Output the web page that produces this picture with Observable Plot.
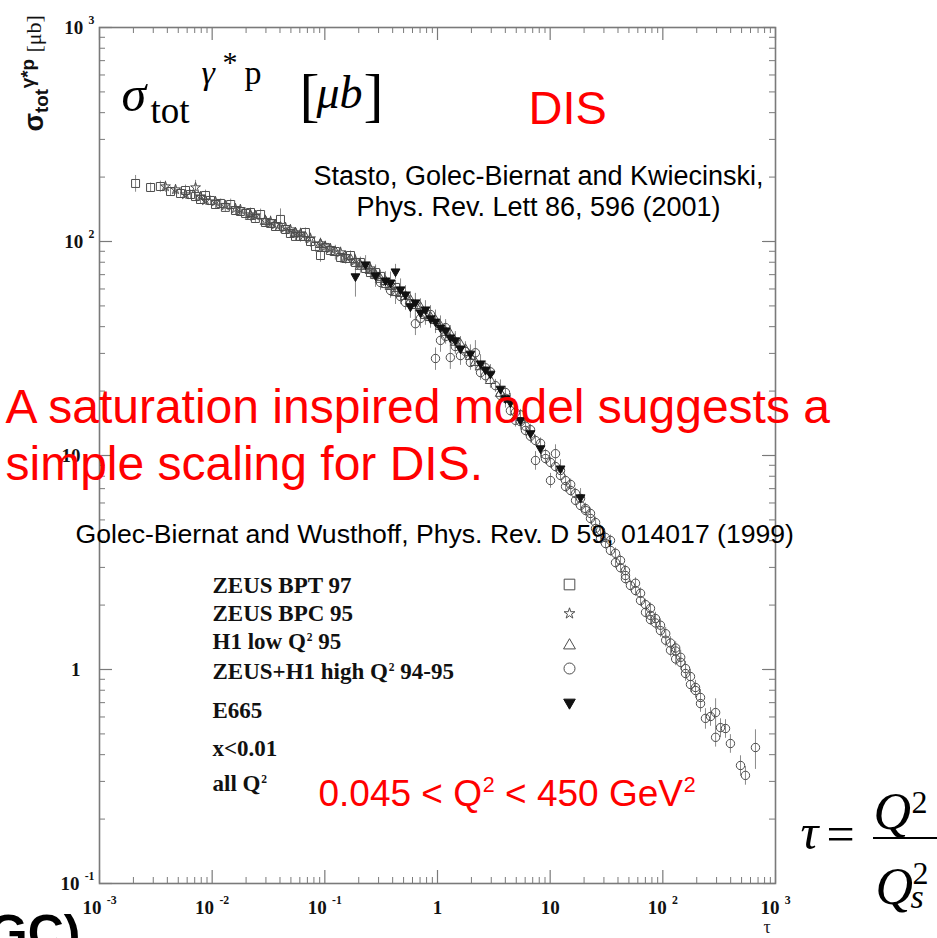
<!DOCTYPE html>
<html>
<head>
<meta charset="utf-8">
<script src="https://cdn.jsdelivr.net/npm/d3@7"></script>
<script src="https://cdn.jsdelivr.net/npm/@observablehq/plot@0.6"></script>
<style>
  html, body { margin: 0; padding: 0; background: #fff; overflow: hidden; }
  #chart svg { display: block; }
</style>
</head>
<body>
<div id="chart"></div>
<script>
// ---------------- DATA ----------------
// ZEUS BPT 97 (open squares)
const bpt97Tau   = [0.00209, 0.00347, 0.00427, 0.00524, 0.00580, 0.00712, 0.00788, 0.00873, 0.00966, 0.0119, 0.0131, 0.0146, 0.0178, 0.0198, 0.0242, 0.0269, 0.0330, 0.0404, 0.0448, 0.0495, 0.0608, 0.0673, 0.0826, 0.0915, 0.101, 0.124, 0.138, 0.169, 0.187, 0.230, 0.254, 0.312, 0.345, 0.424,
                    0.00284, 0.00643, 0.0107, 0.0161, 0.0219, 0.0297, 0.0365, 0.0549, 0.0746, 0.112, 0.153, 0.207, 0.282];
const bpt97Sigma = [186.7, 180.7, 171.2, 167.6, 173.1, 162.2, 157.1, 164.0, 155.5, 150.6, 144.3, 148.9, 138.1, 135.2, 128.1, 133.7, 121.4, 126.8, 113.8, 109.0, 105.6, 110.2, 94.8, 86.0, 93.8, 89.8, 84.2, 86.0, 79.8, 74.8, 71.6, 68.7, 63.6, 61.0,
                    178.8, 165.8, 148.9, 139.6, 136.6, 122.7, 117.5, 105.6, 100.0, 90.8, 83.3, 79.8, 71.6];
const bpt97ErrPct = [9, 6, 5, 5, 6, 5, 5, 6, 5, 5, 5, 6, 5, 5, 5, 6, 5, 12, 5, 5, 6, 5, 6, 7, 5, 5, 6, 5, 6, 6, 6, 7, 7, 8,
                     5, 5, 5, 5, 5, 5, 5, 5, 6, 6, 6, 6, 7];

// ZEUS BPC 95 (open stars)
const bpc95Tau   = [0.00385, 0.00712, 0.00788, 0.0107, 0.0161, 0.0219, 0.0297, 0.0365, 0.0549, 0.0746, 0.0915, 0.112, 0.153, 0.207, 0.282, 0.383, 0.0131, 0.0495, 0.138, 0.00580, 0.0242,
                    0.00473, 0.00873, 0.0178, 0.0330, 0.0448, 0.0608, 0.101, 0.187, 0.254];
const bpc95Sigma = [180.7, 178.8, 162.2, 153.8, 142.7, 133.7, 125.4, 120.1, 110.2, 103.3, 97.9, 92.8, 85.1, 78.1, 70.1, 62.3, 147.4, 113.8, 88.9, 165.8, 132.3,
                    175.0, 155.5, 141.2, 124.1, 116.3, 109.0, 94.8, 81.5, 74.8];
const bpc95ErrPct = [6, 8, 5, 5, 5, 5, 6, 5, 5, 6, 6, 5, 6, 6, 7, 7, 5, 5, 6, 5, 5,
                     5, 5, 5, 6, 5, 6, 6, 7, 7];

// H1 low Q2 95 (open triangles)
const h1LowTau   = [0.0219, 0.0297, 0.0404, 0.0549, 0.0673, 0.0915, 0.124, 0.169, 0.207, 0.254, 0.312, 0.383, 0.470, 0.575, 0.706, 0.867, 1.063, 1.30, 1.60, 1.96, 2.41, 0.637, 1.18, 0.424,
                    0.282, 0.345, 0.520, 0.782, 0.960, 1.44, 1.77, 2.17, 2.95, 3.62];
const h1LowSigma = [130.9, 124.1, 116.3, 109.0, 104.4, 96.8, 88.9, 82.4, 76.5, 73.2, 66.5, 61.6, 57.1, 53.0, 49.1, 44.1, 40.1, 36.8, 33.0, 29.0, 26.0, 50.2, 37.6, 57.7,
                    69.4, 65.0, 55.3, 45.1, 42.7, 33.8, 31.2, 27.2, 22.4, 19.5];
const h1LowErrPct = [5, 5, 6, 5, 6, 6, 8, 7, 7, 8, 8, 9, 9, 10, 10, 10, 12, 10, 9, 9, 8, 14, 10, 12,
                     8, 9, 10, 10, 12, 10, 9, 9, 8, 8];

// ZEUS+H1 high Q2 94-95 (open circles)
const highQ2Tau = [0.312, 0.383, 0.470, 0.520, 0.637, 0.706, 0.867, 0.960, 1.063, 1.18, 1.30, 1.44, 1.60, 1.77, 2.17, 2.41, 2.67, 2.95, 3.27, 3.62, 4.01, 4.44, 4.92, 5.45, 6.04, 6.69, 7.41, 8.21, 9.09, 10.07, 11.15, 11.15, 12.35, 13.7, 15.2, 16.8, 18.6, 20.6, 22.8, 25.3, 28.0, 31.0, 34.3, 38.0, 42.1, 46.6, 51.6, 57.2, 63.4, 70.2, 77.7, 86.1, 95.3, 106, 117, 130, 144, 159, 176, 195, 216, 239, 265, 294, 325, 360, 294, 398, 489, 541, 664, 12.35, 18.6, 22.8, 28.0, 34.3, 42.1, 46.6, 57.2, 63.4, 77.7, 95.3, 106, 130, 159, 176, 216, 9.09, 7.41, 6.04, 4.92, 1.96, 0.782, 0.575, 4.01, 13.7, 16.8, 25.3, 38.0, 70.2, 86.1, 117, 144,
                   0.424, 1.18, 2.67, 5.45, 6.69, 10.07, 15.2, 20.6, 31.0, 46.6, 77.7, 130, 195];
const highQ2Sigma = [64.3, 59.0, 55.3, 51.9, 41.3, 43.7, 45.6, 28.4, 34.5, 36.0, 28.7, 32.3, 29.3, 30.6, 30.2, 24.4, 23.6, 24.6, 21.2, 19.1, 18.5, 16.2, 15.9, 14.4, 13.7, 13.2, 9.48, 11.4, 10.1, 7.64, 10.2, 8.88, 8.51, 7.64, 7.32, 6.64, 6.30, 5.65, 5.36, 4.86, 4.46, 4.14, 3.60, 3.49, 2.99, 2.90, 2.47, 2.34, 2.10, 2.01, 1.79, 1.65, 1.52, 1.37, 1.33, 1.22, 1.08, 1.01, 0.927, 0.798, 0.740, 0.591, 0.603, 0.629, 0.535, 0.530, 0.482, 0.451, 0.356, 0.320, 0.432, 8.07, 5.84, 5.08, 4.10, 4.01, 3.23, 2.66, 2.53, 2.27, 1.93, 1.61, 1.47, 1.26, 0.958, 0.851, 0.693, 9.68, 11.75, 13.1, 14.6, 27.2, 46.1, 51.3, 19.7, 7.16, 6.17, 4.56, 3.16, 1.85, 1.73, 1.23, 1.14,
                     58.4, 39.6, 25.7, 15.5, 12.3, 9.28, 6.86, 5.54, 3.88, 2.75, 1.71, 1.12, 0.824];
const highQ2ErrPct = [8, 8, 8, 8, 12, 10, 10, 12, 12, 8, 12, 8, 10, 8, 14, 8, 7, 8, 7, 7, 7, 6, 6, 6, 6, 6, 10, 6, 6, 8, 10, 6, 6, 6, 6, 6, 6, 6, 6, 6, 6, 6, 6, 6, 6, 6, 6, 6, 6, 6, 6, 7, 7, 7, 7, 7, 8, 8, 8, 8, 9, 11, 10, 16, 10, 10, 10, 10, 11, 10, 21, 6, 6, 6, 6, 6, 6, 6, 6, 6, 6, 7, 7, 7, 8, 8, 9, 6, 6, 6, 7, 8, 10, 9, 7, 6, 6, 6, 6, 6, 7, 7, 8,
                      9, 9, 7, 6, 6, 6, 6, 6, 6, 6, 6, 7, 8];

// E665 (filled inverted triangles)
const e665Tau   = [0.187, 0.230, 0.282, 0.345, 0.424, 0.470, 0.520, 0.575, 0.706, 0.782, 0.960, 1.18, 1.44, 1.60, 1.96, 2.41, 2.95, 3.62, 4.44, 5.45, 0.383, 1.063, 6.69, 8.21, 12.35, 18.6,
                   0.637, 0.867, 1.30, 2.67, 4.01];
const e665Sigma = [68.7, 78.1, 69.4, 65.7, 72.4, 59.7, 56.5, 49.7, 46.6, 48.1, 42.2, 38.4, 34.5, 31.6, 29.9, 26.9, 24.1, 20.5, 17.7, 14.6, 64.3, 39.6, 12.7, 10.8, 8.69, 6.37,
                   51.9, 43.7, 35.6, 25.2, 18.5];
const e665ErrPct = [20, 10, 12, 10, 8, 12, 10, 12, 10, 10, 12, 10, 10, 12, 10, 10, 10, 10, 10, 10, 12, 10, 10, 10, 10, 10,
                    10, 10, 10, 10, 10];

// Axis ticks and labels
const xTickValues = [1e-3, 1e-2, 1e-1, 1, 10, 1e2, 1e3];
const xTickLabels = ["10^{-3}", "10^{-2}", "10^{-1}", "1", "10", "10^{2}", "10^{3}"];
const yTickValues = [1e-1, 1, 10, 1e2, 1e3];
const yTickLabels = ["10^{-1}", "1", "10", "10^{2}", "10^{3}"];
const xAxisTitle = "τ";
const yAxisTitle = "σ_{tot}^{γ*p}";
const yAxisUnit = "[μb]";

// Legend
const legendLabels = ["ZEUS BPT 97", "ZEUS BPC 95", "H1 low Q^{2} 95", "ZEUS+H1 high Q^{2} 94-95", "E665"];
const legendNotes = ["x<0.01", "all Q^{2}"];

// Slide annotations
const disLabel = "DIS";
const citeStasto = ["Stasto, Golec-Biernat and Kwiecinski,", "Phys. Rev. Lett 86, 596 (2001)"];
const claimLines = ["A saturation inspired model suggests a", "simple scaling for DIS."];
const citeGBW = "Golec-Biernat and Wusthoff, Phys. Rev. D 59, 014017 (1999)";
const rangeLabel = "0.045 < Q^{2} < 450 GeV^{2}";
const cutText = "GC)";

// ---------------- LAYOUT / STYLE ----------------
const W = 937, H = 938, ML = 99, MR = 162, MT = 27, MB = 55;
const IW = W - ML - MR, IH = H - MT - MB;
const SERIF = "'Liberation Serif','Times New Roman',Times,serif";
const SANS = "'Liberation Sans',Arial,Helvetica,sans-serif";
const RED = "#ff0000";
const MARK = "#4d4d4d";
const AXIS = "#7a7a7a";

const invTriangle = {
  draw(ctx, size) {
    const y = -Math.sqrt(size / (Math.sqrt(3) * 3));
    ctx.moveTo(0, -y * 2);
    ctx.lineTo(-Math.sqrt(3) * y, y);
    ctx.lineTo(Math.sqrt(3) * y, y);
    ctx.closePath();
  }
};

function rows(taus, sigmas, pcts) {
  return taus.map((t, i) => ({tau: t, sigma: sigmas[i], err: sigmas[i] * pcts[i] / 100}));
}

const series = [
  {name: legendLabels[0], data: rows(bpt97Tau, bpt97Sigma, bpt97ErrPct), symbol: "square", r: 4.5, lr: 6, fill: "none", stroke: MARK},
  {name: legendLabels[1], data: rows(bpc95Tau, bpc95Sigma, bpc95ErrPct), symbol: "star", r: 3.1, lr: 3.4, fill: "none", stroke: MARK},
  {name: legendLabels[2], data: rows(h1LowTau, h1LowSigma, h1LowErrPct), symbol: "triangle", r: 3.8, lr: 4.4, fill: "none", stroke: MARK},
  {name: legendLabels[3], data: rows(highQ2Tau, highQ2Sigma, highQ2ErrPct), symbol: "circle", r: 4.2, lr: 5.5, fill: "none", stroke: MARK},
  {name: legendLabels[4], data: rows(e665Tau, e665Sigma, e665ErrPct), symbol: invTriangle, r: 3.3, lr: 4.3, fill: "#111", stroke: "#111"}
];

const legendTextBaselines = [592, 620, 648, 678, 717];
const legendNoteBaselines = [755, 790];
const legendSymbolY = [584, 613, 645, 668, 702];
const legendSymbolX = 569;

// major / minor log ticks
const xMajor = xTickValues;
const xMinor = d3.range(-3, 3).flatMap(e => d3.range(2, 10).map(k => k * Math.pow(10, e)));
const yMajor = yTickValues;
const yMinor = d3.range(-1, 3).flatMap(e => d3.range(2, 10).map(k => k * Math.pow(10, e)));

function note(txt, x, y, o = {}) {
  return Plot.text([txt], {
    text: d => d, frameAnchor: "top-left", dx: x - ML, dy: y - MT,
    lineAnchor: "bottom", textAnchor: "start", fill: "#000", ...o
  });
}

const tickRowsY = yTickValues.map((v, i) => ({v, label: yTickLabels[i]}));
const tickRowsX = xTickValues.map((v, i) => ({v, label: xTickLabels[i]}));

const marks = [
  // frame + ROOT-style inward ticks on all four sides
  Plot.frame({stroke: AXIS, strokeWidth: 1.6}),
  Plot.tickX(xMajor, {x: d => d, insetTop: IH - 13, stroke: AXIS, strokeWidth: 1.2}),
  Plot.tickX(xMinor, {x: d => d, insetTop: IH - 6, stroke: AXIS, strokeWidth: 1}),
  Plot.tickX(xMajor, {x: d => d, insetBottom: IH - 13, stroke: AXIS, strokeWidth: 1.2}),
  Plot.tickX(xMinor, {x: d => d, insetBottom: IH - 6, stroke: AXIS, strokeWidth: 1}),
  Plot.tickY(yMajor, {y: d => d, insetRight: IW - 13, stroke: AXIS, strokeWidth: 1.2}),
  Plot.tickY(yMinor, {y: d => d, insetRight: IW - 6, stroke: AXIS, strokeWidth: 1}),
  Plot.tickY(yMajor, {y: d => d, insetLeft: IW - 13, stroke: AXIS, strokeWidth: 1.2}),
  Plot.tickY(yMinor, {y: d => d, insetLeft: IW - 6, stroke: AXIS, strokeWidth: 1}),

  // error bars
  ...series.map(s => Plot.ruleX(s.data, {x: "tau", y1: d => d.sigma - d.err, y2: d => d.sigma + d.err, stroke: "#8a8a8a", strokeWidth: 1})),
  // data points
  ...series.map(s => Plot.dot(s.data, {x: "tau", y: "sigma", symbol: s.symbol, r: s.r, fill: s.fill, stroke: s.stroke, strokeWidth: 1})),

  // tick labels
  Plot.text(tickRowsX, {x: "v", text: "label", frameAnchor: "bottom", dy: 30, lineAnchor: "bottom", textAnchor: "middle",
    fontFamily: SERIF, fontWeight: "bold", fontSize: 19, fill: "#111", ariaDescription: "rich-tick"}),
  Plot.text(tickRowsY.filter(d => d.label.includes("^")), {y: "v", text: "label", frameAnchor: "left", dx: -5, lineAnchor: "middle", textAnchor: "end",
    fontFamily: SERIF, fontWeight: "bold", fontSize: 19, fill: "#111", ariaDescription: "rich-tick"}),
  Plot.text(tickRowsY.filter(d => !d.label.includes("^")), {y: "v", text: "label", frameAnchor: "left", dx: -19, lineAnchor: "middle", textAnchor: "end",
    fontFamily: SERIF, fontWeight: "bold", fontSize: 19, fill: "#111"}),

  // axis titles
  note(xAxisTitle, 763, 932, {fontFamily: SERIF, fontSize: 18, fill: "#222"}),
  Plot.text([yAxisTitle], {text: d => d, frameAnchor: "top-left", dx: 42 - ML, dy: 131 - MT, rotate: -90, lineAnchor: "bottom", textAnchor: "start",
    fontFamily: SANS, fontWeight: "bold", fontSize: 27, fill: "#111", ariaDescription: "rich-ytitle"}),
  Plot.text([yAxisUnit], {text: d => d, frameAnchor: "top-left", dx: 40 - ML, dy: 52 - MT, rotate: -90, lineAnchor: "bottom", textAnchor: "start",
    fontFamily: SERIF, fontSize: 22, fill: "#111"}),

  // legend
  ...legendLabels.map((s, i) => note(s, 212, legendTextBaselines[i], {fontFamily: SERIF, fontWeight: "bold", fontSize: 23, fill: "#111", ariaDescription: "rich-legend"})),
  ...legendNotes.map((s, i) => note(s, 212, legendNoteBaselines[i], {fontFamily: SERIF, fontWeight: "bold", fontSize: 23, fill: "#111", ariaDescription: "rich-legend"})),
  ...series.map((s, i) => Plot.dot([s.name], {frameAnchor: "top-left", dx: legendSymbolX - ML, dy: legendSymbolY[i] - MT,
    symbol: s.symbol, r: s.lr, fill: s.fill, stroke: s.stroke, strokeWidth: 1})),

  // big formula title: σ_tot^{γ* p} [μb]
  note("σ", 121, 110, {fontFamily: SERIF, fontStyle: "italic", fontSize: 50}),
  note("tot", 150, 122, {fontFamily: SERIF, fontSize: 37}),
  note("γ", 201, 83, {fontFamily: SERIF, fontStyle: "italic", fontSize: 34}),
  note("*", 222, 71, {fontFamily: SERIF, fontSize: 30}),
  note("p", 244, 83, {fontFamily: SERIF, fontSize: 34}),
  note("[", 299, 114, {fontFamily: SERIF, fontSize: 60}),
  note("μb", 316, 107, {fontFamily: SERIF, fontStyle: "italic", fontSize: 46}),
  note("]", 363, 114, {fontFamily: SERIF, fontSize: 60}),

  // slide annotations
  note(disLabel, 528, 123, {fontFamily: SANS, fontSize: 47, fill: RED}),
  note(citeStasto[0], 538, 184, {fontFamily: SANS, fontSize: 27, textAnchor: "middle"}),
  note(citeStasto[1], 538, 215, {fontFamily: SANS, fontSize: 27, textAnchor: "middle"}),
  note(claimLines[0], 5, 422, {fontFamily: SANS, fontSize: 48, fill: RED}),
  note(claimLines[1], 5, 479, {fontFamily: SANS, fontSize: 48, fill: RED}),
  note(citeGBW, 75, 542, {fontFamily: SANS, fontSize: 26.6}),
  note(rangeLabel, 318, 805, {fontFamily: SANS, fontSize: 37, fill: RED, ariaDescription: "rich-range"}),

  // tau = Q^2 / Q_s^2
  note("τ", 800, 848, {fontFamily: SERIF, fontStyle: "italic", fontSize: 50}),
  note("=", 826, 850, {fontFamily: SERIF, fontSize: 50}),
  note("Q", 873, 828, {fontFamily: SERIF, fontStyle: "italic", fontSize: 52}),
  note("2", 911, 812, {fontFamily: SERIF, fontSize: 32}),
  note("Q", 875, 903, {fontFamily: SERIF, fontStyle: "italic", fontSize: 52}),
  note("s", 910, 907, {fontFamily: SERIF, fontStyle: "italic", fontSize: 34}),
  note("2", 912, 883, {fontFamily: SERIF, fontSize: 32}),

  // cut-off text at bottom left of the slide
  note(cutText, 80, 949, {fontFamily: SANS, fontWeight: "bold", fontSize: 50, textAnchor: "end"})
];

const svg = Plot.plot({
  width: W, height: H,
  marginLeft: ML, marginRight: MR, marginTop: MT, marginBottom: MB,
  style: {background: "#fff", overflow: "hidden"},
  x: {type: "log", domain: [1e-3, 1e3], axis: null},
  y: {type: "log", domain: [1e-1, 1e3], axis: null},
  marks
});
document.getElementById("chart").appendChild(svg);

// fraction bar of tau = Q^2/Q_s^2
d3.select(svg).append("line")
  .attr("x1", 873).attr("x2", 937).attr("y1", 838).attr("y2", 838)
  .attr("stroke", "#000").attr("stroke-width", 2.2);

// rich text: ^{...} superscripts and _{...} subscripts
const RICH = {
  "rich-tick":   {supShift: -0.52, supScale: 0.62, supDx: 0.28, subShift: 0.2, subScale: 0.7},
  "rich-legend": {supShift: -0.33, supScale: 0.5, supDx: 0.04, subShift: 0.2, subScale: 0.7},
  "rich-range":  {supShift: -0.36, supScale: 0.58, supDx: 0.02, subShift: 0.2, subScale: 0.7},
  "rich-ytitle": {supShift: -0.3, supScale: 0.7, supDx: 0.02, subShift: 0.2, subScale: 0.7}
};
const NS = "http://www.w3.org/2000/svg";
for (const [key, cfg] of Object.entries(RICH)) {
  svg.querySelectorAll(`g[aria-description="${key}"] text`).forEach(t => {
    const src = t.textContent;
    if (!/[_^]\{/.test(src)) return;
    const fs = parseFloat(getComputedStyle(t).fontSize) || 16;
    t.textContent = "";
    const re = /([_^])\{([^}]*)\}|([^_^]+)/g;
    let m, cur = 0;
    while ((m = re.exec(src))) {
      const ts = document.createElementNS(NS, "tspan");
      let off = 0, size = fs;
      if (m[1] === "^") { off = cfg.supShift * fs; size = cfg.supScale * fs; ts.textContent = m[2]; ts.setAttribute("dx", cfg.supDx * fs); }
      else if (m[1] === "_") { off = cfg.subShift * fs; size = cfg.subScale * fs; ts.textContent = m[2]; }
      else ts.textContent = m[3];
      ts.setAttribute("dy", off - cur);
      cur = off;
      ts.setAttribute("font-size", size);
      t.appendChild(ts);
    }
  });
}
</script>
</body>
</html>
